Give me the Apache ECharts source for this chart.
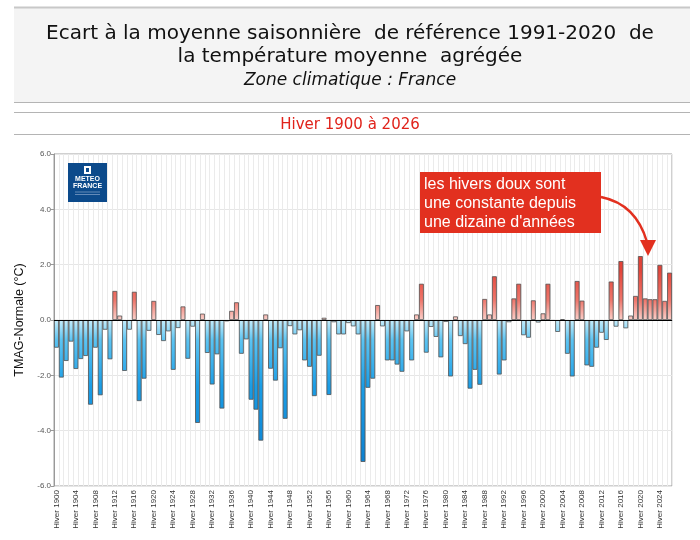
<!DOCTYPE html>
<html>
<head>
<meta charset="utf-8">
<title>Ecart à la moyenne saisonnière - Hiver</title>
<script src="https://cdn.jsdelivr.net/npm/echarts@6/dist/echarts.min.js"></script>
<style>
  html, body { margin: 0; padding: 0; background: #fff; }
  #chart { width: 700px; height: 540px; }
</style>
</head>
<body>
<div id="chart"></div>
<script>
// années (hiver 1900 à 2026)
var years = [];
for (var y = 1900; y <= 2026; y++) { years.push(y); }
var categories = years.map(function (y) { return 'Hiver ' + y; });

// écart TMAG - normale 1991-2020 (°C)
var ecarts1900 = [-1.00, -2.08, -1.48, -0.78, -1.77, -1.41, -1.30, -3.06, -1.00, -2.72,
                  -0.35, -1.42, 1.05, 0.16, -1.84, -0.35, 1.02, -2.93, -2.12, -0.39];
var ecarts1920 = [0.69, -0.54, -0.76, -0.41, -1.80, -0.29, 0.49, -1.40, -0.24, -3.72,
                  0.23, -1.19, -2.33, -1.24, -3.20, -0.05, 0.33, 0.64, -1.22, -0.70];
var ecarts1940 = [-2.88, -3.24, -4.36, 0.20, -1.76, -2.19, -1.02, -3.57, -0.22, -0.52,
                  -0.37, -1.46, -1.69, -2.75, -1.29, 0.08, -2.71, -0.08, -0.52, -0.52];
var ecarts1960 = [-0.11, -0.23, -0.52, -5.13, -2.45, -2.12, 0.54, -0.23, -1.46, -1.46,
                  -1.61, -1.87, -0.41, -1.46, 0.20, 1.31, -1.18, -0.25, -0.61, -1.35];
var ecarts1980 = [-0.07, -2.04, 0.13, -0.58, -0.87, -2.48, -1.80, -2.34, 0.76, 0.20,
                  1.58, -1.97, -1.46, -0.08, 0.78, 1.31, -0.55, -0.64, 0.71, -0.09];
var ecarts2000 = [0.24, 1.31, -0.03, -0.43, 0.03, -1.22, -2.04, 1.41, 0.70, -1.64,
                  -1.69, -1.00, -0.46, -0.72, 1.39, -0.24, 2.13, -0.30, 0.16, 0.87,
                  2.31, 0.78, 0.75, 0.75, 1.99, 0.69, 1.71];
var ecarts = [].concat(ecarts1900, ecarts1920, ecarts1940, ecarts1960, ecarts1980, ecarts2000);

// graduations de l'axe y
var yMin = -6, yMax = 6, yStep = 2;

var myChart = echarts.init(document.getElementById('chart'));

// zone du graphique (pixels) pour les dégradés
var gridTop = 154, gridBottom = 54, gridLeft = 54, gridRight = 28;
var plotH = 540 - gridTop - gridBottom;
var zeroY = gridTop + plotH * (yMax / (yMax - yMin));

var redGrad = new echarts.graphic.LinearGradient(0, zeroY, 0, gridTop, [
    { offset: 0, color: '#fbd0ca' },
    { offset: 0.12, color: '#ee766b' },
    { offset: 0.3, color: '#e4453a' },
    { offset: 1, color: '#c9281e' }
], true);
var blueGrad = new echarts.graphic.LinearGradient(0, zeroY, 0, gridTop + plotH, [
    { offset: 0, color: '#c8eefc' },
    { offset: 0.12, color: '#5cc4f2' },
    { offset: 0.4, color: '#1a9de6' },
    { offset: 1, color: '#0a78c9' }
], true);

var barData = ecarts.map(function (v) {
    return { value: v, itemStyle: { color: v >= 0 ? redGrad : blueGrad } };
});

var option = {
    backgroundColor: '#fff',
    animation: false,
    title: [
        {
            text: 'Ecart à la moyenne saisonnière  de référence 1991-2020  de\nla température moyenne  agrégée',
            left: 'center',
            top: 17,
            textStyle: { fontFamily: 'DejaVu Sans', fontSize: 20, fontWeight: 'normal', color: '#111', lineHeight: 23, align: 'center' }
        },
        {
            text: 'Zone climatique : France',
            left: 'center',
            top: 67,
            textStyle: { fontFamily: 'DejaVu Sans', fontSize: 17, fontStyle: 'italic', fontWeight: 'normal', color: '#111' }
        },
        {
            text: 'Hiver 1900 à 2026',
            left: 'center',
            top: 113,
            textStyle: { fontFamily: 'DejaVu Sans', fontSize: 15, fontWeight: 'normal', color: '#e0231b' }
        }
    ],
    grid: {
        left: gridLeft, right: gridRight, top: gridTop, bottom: gridBottom,
        show: true, borderColor: '#a0a0a0', borderWidth: 1
    },
    xAxis: {
        type: 'category',
        data: categories,
        axisLine: { lineStyle: { color: '#999' } },
        axisTick: { show: false },
        axisLabel: {
            interval: 3, rotate: 90, fontSize: 8, color: '#333',
            fontFamily: 'Liberation Sans', margin: 4
        },
        splitLine: { show: true, interval: 0, lineStyle: { color: '#ebebeb', width: 1 } }
    },
    yAxis: {
        type: 'value',
        min: yMin, max: yMax, interval: yStep,
        name: 'TMAG-Normale (°C)',
        nameLocation: 'middle',
        nameGap: 28,
        nameTextStyle: { fontFamily: 'Liberation Sans', fontSize: 12.5, color: '#111' },
        axisLine: { show: true, lineStyle: { color: '#999' } },
        axisTick: { show: true, length: 3, lineStyle: { color: '#999' } },
        axisLabel: {
            fontSize: 8, color: '#555', fontFamily: 'Liberation Sans', margin: 3,
            formatter: function (v) { return v.toFixed(1); }
        },
        splitLine: { lineStyle: { color: '#e6e6e6' } }
    },
    series: [{
        name: 'Ecart',
        type: 'bar',
        data: barData,
        barCategoryGap: '0%',
        itemStyle: { borderColor: '#505050', borderWidth: 0.8 },
        markLine: {
            silent: true,
            symbol: ['none', 'none'],
            label: { show: false },
            lineStyle: { color: '#000', width: 1, type: 'solid' },
            data: [{ yAxis: 0 }]
        }
    }],
    graphic: [
        // bandeau du titre
        { type: 'rect', z: -10, shape: { x: 14, y: 8, width: 676, height: 94 }, style: { fill: '#f4f4f4' } },
        { type: 'line', z: 100, shape: { x1: 14, y1: 7.5, x2: 690, y2: 7.5 }, style: { stroke: '#c8c8c8', lineWidth: 2 } },
        { type: 'line', z: 100, shape: { x1: 14, y1: 102.5, x2: 690, y2: 102.5 }, style: { stroke: '#b4b4b4', lineWidth: 1 } },
        { type: 'line', z: 100, shape: { x1: 14, y1: 112.5, x2: 690, y2: 112.5 }, style: { stroke: '#b4b4b4', lineWidth: 1 } },
        { type: 'line', z: 100, shape: { x1: 14, y1: 134.5, x2: 690, y2: 134.5 }, style: { stroke: '#b4b4b4', lineWidth: 1 } },
        // logo Météo-France
        { type: 'rect', z: 100, shape: { x: 68, y: 163, width: 39, height: 39 }, style: { fill: '#0c4a8b' } },
        { type: 'rect', z: 101, shape: { x: 84, y: 166, width: 7, height: 8 }, style: { fill: '#fff' } },
        { type: 'rect', z: 102, shape: { x: 86, y: 168, width: 3, height: 4 }, style: { fill: '#0c4a8b' } },
        {
            type: 'text', z: 101, style: {
                x: 87.5, y: 176, text: 'METEO\nFRANCE', fill: '#fff', align: 'center',
                font: 'bold 7px "Liberation Sans"', lineHeight: 7
            }
        },
        { type: 'line', z: 101, shape: { x1: 75, y1: 192, x2: 100, y2: 192 }, style: { stroke: '#9fb6d6', lineWidth: 0.6 } },
        { type: 'line', z: 101, shape: { x1: 75, y1: 194.5, x2: 100, y2: 194.5 }, style: { stroke: '#9fb6d6', lineWidth: 0.6 } },
        // annotation
        { type: 'rect', z: 100, shape: { x: 420, y: 172, width: 181, height: 61 }, style: { fill: '#e2301f' } },
        {
            type: 'text', z: 101, style: {
                x: 424, y: 175, text: "les hivers doux sont\nune constante depuis\nune dizaine d'années",
                fill: '#fff', font: '16px "Liberation Sans"', lineHeight: 19
            }
        },
        {
            type: 'bezierCurve', z: 100,
            shape: { x1: 601, y1: 197, cpx1: 636, cpy1: 204, x2: 647, y2: 242 },
            style: { stroke: '#e2301f', lineWidth: 2.5, fill: null }
        },
        {
            type: 'polygon', z: 100,
            shape: { points: [[640, 240], [656, 240], [648, 256]] },
            style: { fill: '#e2301f' }
        }
    ]
};

myChart.setOption(option);
</script>
</body>
</html>
